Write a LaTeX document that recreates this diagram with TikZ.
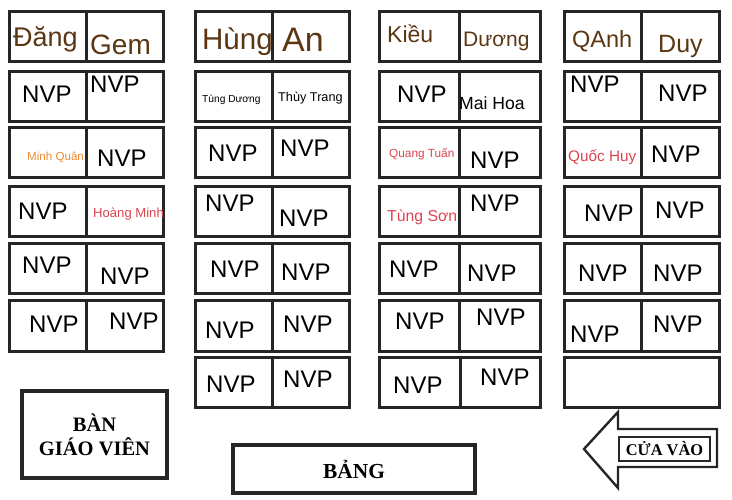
\documentclass[tikz,border=0pt]{standalone}
\usepackage{fontspec}
\setmainfont{Liberation Sans}
\newfontfamily\labelfont{Liberation Serif}
\usepackage{xcolor}
\usepackage{tikz}
\definecolor{nmbrown}{HTML}{5A3612}
\definecolor{nmorange}{HTML}{EC8A32}
\definecolor{nmred}{HTML}{DC4450}
\definecolor{frame}{HTML}{262626}
\newcommand{\pxsize}[1]{\fontsize{#1}{#1}\selectfont}
\tikzset{desk/.style={draw=frame,line width=3pt,minimum height=50pt,inner sep=0pt},
  pupil/.style={anchor=base west,inner sep=0pt},
  nvp/.style={pupil,font=\pxsize{24}},}
\tikzstyle{bigbox} = [draw=frame,line width=3.2pt,inner sep=0pt,align=center,font=\labelfont\bfseries]

\begin{document}
\begin{tikzpicture}[x=1pt,y=-1pt]
    \useasboundingbox (0,0) rectangle (732,500);
    % desks
    \foreach \r/\y in {1/37,2/97,3/153,4/212,5/269,6/326}
      \foreach \c/\x/\w in {1/86.5/154,2/272/154,3/459.5/161,4/641.5/155} {
        \node[desk,minimum width=\w pt] (d\c\r) at (\x,\y) {};
        \draw[frame,line width=3pt] (d\c\r.north) -- (d\c\r.south);
      }
    \node[desk,minimum width=154pt] (d27) at (272,382) {};
    \node[desk,minimum width=161pt] (d37) at (460,382) {};
    \node[desk,minimum width=155pt] (d47) at (641.5,382) {};
    \draw[frame,line width=3pt] (d27.north) -- (d27.south);
    \draw[frame,line width=3pt] (d37.north) -- (d37.south);

    % row 1
    \node[pupil,text=nmbrown,font=\pxsize{27}] (s11a) at (13,47) {Đăng};
    \node[pupil,text=nmbrown,font=\pxsize{28}] (s11b) at (90,55) {Gem};
    \node[pupil,text=nmbrown,font=\pxsize{29.5}] (s21a) at (202,50) {Hùng};
    \node[pupil,text=nmbrown,font=\pxsize{34}] (s21b) at (282,52) {An};
    \node[pupil,text=nmbrown,font=\pxsize{23}] (s31a) at (387,43) {Kiều};
    \node[pupil,text=nmbrown,font=\pxsize{21}] (s31b) at (463,47) {Dương};
    \node[pupil,text=nmbrown,font=\pxsize{23.5}] (s41a) at (572,48) {QAnh};
    \node[pupil,text=nmbrown,font=\pxsize{25}] (s41b) at (658,53) {Duy};
    % row 2
    \node[nvp] (s12a) at (22,103) {NVP};
    \node[nvp] (s12b) at (90,93) {NVP};
    \node[pupil,font=\pxsize{10.2}] (s22a) at (202,103) {Tùng Dương};
    \node[pupil,font=\pxsize{12.7}] (s22b) at (278,102) {Thùy Trang};
    \node[nvp] (s32a) at (397,103) {NVP};
    \node[pupil,font=\pxsize{17.6}] (s32b) at (459,110) {Mai Hoa};
    \node[nvp] (s42a) at (570,93) {NVP};
    \node[nvp] (s42b) at (658,102) {NVP};
    % row 3
    \node[pupil,text=nmorange,font=\pxsize{11.6}] (s13a) at (27,161) {Minh Quân};
    \node[nvp] (s13b) at (97,167) {NVP};
    \node[nvp] (s23a) at (208,162) {NVP};
    \node[nvp] (s23b) at (280,157) {NVP};
    \node[pupil,text=nmred,font=\pxsize{11.8}] (s33a) at (389,158) {Quang Tuấn};
    \node[nvp] (s33b) at (470,169) {NVP};
    \node[pupil,text=nmred,font=\pxsize{15.3}] (s43a) at (568,162) {Quốc Huy};
    \node[nvp] (s43b) at (651,163) {NVP};
    % row 4
    \node[nvp] (s14a) at (18,220) {NVP};
    \node[pupil,text=nmred,font=\pxsize{13.1}] (s14b) at (93,218) {Hoàng Minh};
    \node[nvp] (s24a) at (205,212) {NVP};
    \node[nvp] (s24b) at (279,227) {NVP};
    \node[pupil,text=nmred,font=\pxsize{15.8}] (s34a) at (387,222) {Tùng Sơn};
    \node[nvp] (s34b) at (470,212) {NVP};
    \node[nvp] (s44a) at (584,222) {NVP};
    \node[nvp] (s44b) at (655,219) {NVP};
    % row 5
    \node[nvp] (s15a) at (22,274) {NVP};
    \node[nvp] (s15b) at (100,284) {NVP};
    \node[nvp] (s25a) at (210,278) {NVP};
    \node[nvp] (s25b) at (281,280) {NVP};
    \node[nvp] (s35a) at (389,278) {NVP};
    \node[nvp] (s35b) at (467,282) {NVP};
    \node[nvp] (s45a) at (578,282) {NVP};
    \node[nvp] (s45b) at (653,282) {NVP};
    % row 6
    \node[nvp] (s16a) at (29,333) {NVP};
    \node[nvp] (s16b) at (109,329) {NVP};
    \node[nvp] (s26a) at (205,338) {NVP};
    \node[nvp] (s26b) at (283,333) {NVP};
    \node[nvp] (s36a) at (395,330) {NVP};
    \node[nvp] (s36b) at (476,325) {NVP};
    \node[nvp] (s46a) at (570,342) {NVP};
    \node[nvp] (s46b) at (653,333) {NVP};
    % row 7
    \node[nvp] (s27a) at (206,392) {NVP};
    \node[nvp] (s27b) at (283,387) {NVP};
    \node[nvp] (s37a) at (393,393) {NVP};
    \node[nvp] (s37b) at (480,385) {NVP};

    % front of the room
    \node[bigbox,minimum width=145pt,minimum height=87pt] (gv) at (94.5,434.5) {\pxsize{20.5}BÀN\\[5pt]\pxsize{20.5}GIÁO VIÊN};
    \node[bigbox,minimum width=242pt,minimum height=48pt] (bang) at (354,469) {\pxsize{21.4}BẢNG};
    \draw[frame,line width=2.4pt,line join=miter] (584,449) -- (618,412) -- (618,429) -- (717,429)
        -- (717,467) -- (618,467) -- (618,488) -- cycle;
    \node[draw=frame,line width=1.2pt,minimum width=91pt,minimum height=24pt,inner sep=0pt,
        font=\labelfont\bfseries\pxsize{16.4}] (door) at (664.5,449) {CỬA VÀO};
\end{tikzpicture}
\end{document}
